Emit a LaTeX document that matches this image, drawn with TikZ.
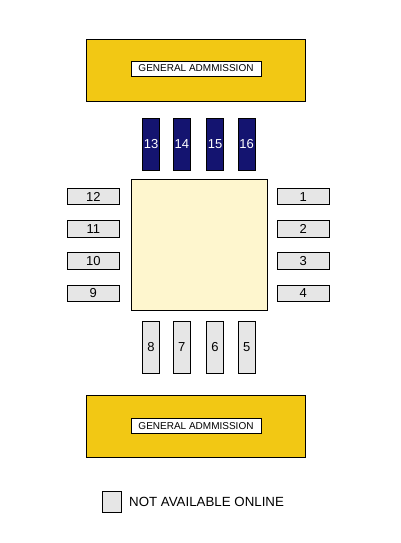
\documentclass[tikz,border=0pt]{standalone}
\usepackage{fontspec}
\setmainfont{Liberation Sans}
\definecolor{gagold}{RGB}{242,200,20}
\definecolor{seatblue}{RGB}{20,20,112}
\definecolor{seatgrey}{RGB}{230,230,230}
\definecolor{floorcream}{RGB}{254,246,206}
\begin{document}
\begin{tikzpicture}[x=1pt,y=-1pt,
  box/.style={draw=black,line width=0.9pt,inner sep=0pt,outer sep=0pt},
  ga/.style={box,fill=gagold,minimum width=219pt,minimum height=62pt},
  galabel/.style={box,fill=white,minimum width=130pt,minimum height=15pt,font=\fontsize{10}{12}\selectfont},
  vseat/.style={box,minimum width=16.7pt,minimum height=52pt,font=\fontsize{13}{15}\selectfont},
  blueseat/.style={vseat,fill=seatblue,text=white},
  greyseat/.style={vseat,fill=seatgrey},
  hseat/.style={box,fill=seatgrey,minimum width=52pt,minimum height=16.5pt,font=\fontsize{13}{15}\selectfont},
  floor/.style={box,fill=floorcream,minimum width=136pt,minimum height=131pt}]
\useasboundingbox (0,0) rectangle (400,543);
\node[ga] (gatop) at (195.8,70) {};
\node[galabel] (gatoplabel) at (196,68.5) {GENERAL ADMMISSION};
\node[ga] (gabot) at (195.8,426.3) {};
\node[galabel] (gabotlabel) at (196,426.3) {GENERAL ADMMISSION};
\node[blueseat] (s13) at (151,144.5) {13};
\node[blueseat] (s14) at (181.8,144.5) {14};
\node[blueseat] (s15) at (215,144.5) {15};
\node[blueseat] (s16) at (246.7,144.5) {16};
\node[floor] (floor) at (199,244.5) {};
\node[hseat] (s12) at (93.3,196.6) {12};
\node[hseat] (s11) at (93.3,228.8) {11};
\node[hseat] (s10) at (93.3,261) {10};
\node[hseat] (s9) at (93.3,293.2) {9};
\node[hseat] (s1) at (303.3,196.6) {1};
\node[hseat] (s2) at (303.3,228.8) {2};
\node[hseat] (s3) at (303.3,261) {3};
\node[hseat] (s4) at (303.3,293.2) {4};
\node[greyseat] (s8) at (151,347.5) {8};
\node[greyseat] (s7) at (181.8,347.5) {7};
\node[greyseat] (s6) at (215,347.5) {6};
\node[greyseat] (s5) at (246.7,347.5) {5};
\node[box,fill=seatgrey,minimum width=19.4pt,minimum height=20.6pt] (legbox) at (112,502) {};
\node[anchor=west,inner sep=0pt,font=\fontsize{13.3}{15}\selectfont] (legtext) at (129,502) {NOT AVAILABLE ONLINE};
\end{tikzpicture}
\end{document}
